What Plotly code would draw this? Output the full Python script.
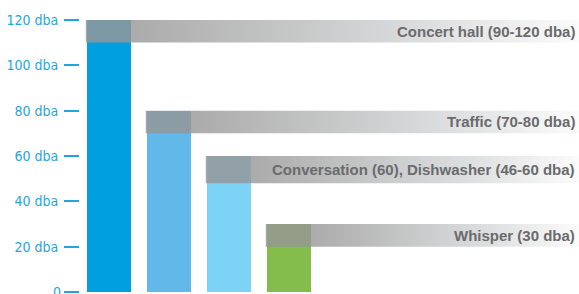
import plotly.graph_objects as go

categories = ["Concert hall", "Traffic", "Conversation", "Whisper"]
bar_tops = [120, 80, 60, 30]
band_low = [110, 70, 48, 20]
band_high = [120, 80, 60, 30]
labels = ["Concert hall (90-120 dba)", "Traffic (70-80 dba)",
          "Conversation (60), Dishwasher (46-60 dba)", "Whisper (30 dba)"]
bar_colors = ["#00a0e0", "#62b8e8", "#7dd3f5", "#84bd4b"]
tick_vals = [0, 20, 40, 60, 80, 100, 120]
tick_text = ["", "20 dba", "40 dba", "60 dba", "80 dba", "100 dba", "120 dba"]
zero_label = "0"

xpos = list(range(len(categories)))
bar_w = 0.733
x_min = -0.483
x_max = x_min + 499 / 60.0

tick_font = dict(family="DejaVu Sans Condensed, sans-serif", size=14, color="#1ea6e0")

fig = go.Figure()
fig.add_trace(go.Bar(x=xpos, y=bar_tops, width=bar_w, marker=dict(color=bar_colors, line=dict(width=0)),
                     hoverinfo="skip", showlegend=False))

for i, xc in enumerate(xpos):
    left = xc - bar_w / 2
    right = xc + bar_w / 2
    lo, hi = band_low[i], band_high[i]
    fig.add_trace(go.Scatter(
        x=[right, x_max, x_max, right, right], y=[lo, lo, hi, hi, lo],
        mode="lines", line=dict(width=0), fill="toself",
        fillgradient=dict(type="horizontal", colorscale=[[0, "#ababab"], [0.6, "#d8d9da"], [1, "#fbfbfb"]]),
        hoverinfo="skip", showlegend=False))
    fig.add_trace(go.Scatter(
        x=[left - 0.02, right, right, left - 0.02, left - 0.02], y=[lo, lo, hi, hi, lo],
        mode="lines", line=dict(width=0), fill="toself",
        fillcolor="rgba(150,150,150,0.82)",
        hoverinfo="skip", showlegend=False))
    fig.add_annotation(x=1, xref="paper", xanchor="right", xshift=-2,
                       y=(lo + hi) / 2, yref="y", yanchor="middle",
                       text=labels[i], showarrow=False,
                       font=dict(family="Liberation Sans, Arial, sans-serif", size=15, color="#6a6b6d", weight="bold"))

fig.add_annotation(x=0, xref="paper", xanchor="right", xshift=-17, y=0, yref="y", yanchor="middle",
                   text=zero_label, showarrow=False, font=tick_font)

fig.update_layout(
    width=579, height=294,
    margin=dict(l=80, r=0, t=0, b=2, autoexpand=False),
    plot_bgcolor="white", paper_bgcolor="white",
    bargap=0,
    xaxis=dict(range=[x_min, x_max], showgrid=False, zeroline=False, showticklabels=False,
               showline=False, ticks="", automargin=False),
    yaxis=dict(range=[0, 128.8], showgrid=False, zeroline=False, showline=False,
               tickvals=tick_vals, ticktext=tick_text, ticks="outside", ticklen=15,
               tickwidth=2, tickcolor="#1ea6e0", ticklabelstandoff=3,
               tickfont=tick_font, automargin=False),
)

fig.write_html("out.html", config={"displayModeBar": False},
               post_script="document.body.style.margin='0';document.body.style.overflow='hidden';")
